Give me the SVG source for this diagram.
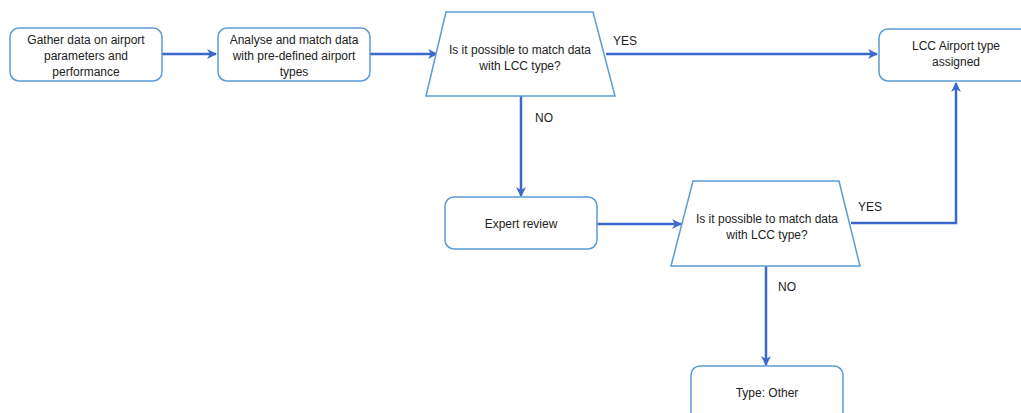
<svg xmlns="http://www.w3.org/2000/svg" width="1021" height="413" viewBox="0 0 1021 413">
<style>
.n{fill:#fff;stroke:#5B9BD5;stroke-width:1.5}
.c{fill:none;stroke:#3B68CC;stroke-width:2.5}
text{font-family:"Liberation Sans",Arial,sans-serif;font-size:12px;fill:#222;text-anchor:middle}
</style>
<defs>
<marker id="a" markerWidth="10" markerHeight="10" viewBox="0 0 10 10" refX="9" refY="5" orient="auto" markerUnits="userSpaceOnUse">
<path d="M0,0 L10,5 L0,10 L3,5 Z" fill="#3B68CC"/>
</marker>
</defs>
<rect width="1021" height="413" fill="#fff"/>
<g id="connectors">
<line class="c" x1="162" y1="54" x2="216" y2="54" marker-end="url(#a)"/>
<line class="c" x1="370" y1="54" x2="437" y2="54" marker-end="url(#a)"/>
<line class="c" x1="606" y1="54" x2="877" y2="54" marker-end="url(#a)"/>
<line class="c" x1="521" y1="96" x2="521" y2="196" marker-end="url(#a)"/>
<line class="c" x1="597" y1="224" x2="681" y2="224" marker-end="url(#a)"/>
<polyline class="c" points="851,223 956,223 956,83" marker-end="url(#a)"/>
<line class="c" x1="766" y1="266" x2="766" y2="365" marker-end="url(#a)"/>
<text x="625" y="45">YES</text>
<text x="544" y="122">NO</text>
<text x="870" y="211">YES</text>
<text x="787" y="291">NO</text>
</g>
<g id="gather">
<rect class="n" x="10" y="28" width="152" height="53" rx="9"/>
<text x="86" y="44">Gather data on airport</text>
<text x="86" y="60">parameters and</text>
<text x="86" y="76">performance</text>
</g>
<g id="analyse">
<rect class="n" x="218" y="28" width="152" height="53" rx="9"/>
<text x="294" y="44">Analyse and match data</text>
<text x="294" y="60">with pre-defined airport</text>
<text x="294" y="76">types</text>
</g>
<g id="decision1">
<polygon class="n" points="446,12 593,12 615,96 426,96"/>
<text x="520" y="54">Is it possible to match data</text>
<text x="520" y="70">with LCC type?</text>
</g>
<g id="lcc">
<rect class="n" x="879" y="29" width="154" height="52" rx="9"/>
<text x="956" y="50">LCC Airport type</text>
<text x="956" y="66">assigned</text>
</g>
<g id="expert">
<rect class="n" x="445" y="197" width="152" height="52" rx="9"/>
<text x="521" y="228">Expert review</text>
</g>
<g id="decision2">
<polygon class="n" points="693,181 839,181 860,266 671,266"/>
<text x="767" y="223">Is it possible to match data</text>
<text x="767" y="239">with LCC type?</text>
</g>
<g id="other">
<rect class="n" x="691" y="366" width="152" height="60" rx="9"/>
<text x="767" y="397">Type: Other</text>
</g>
</svg>
